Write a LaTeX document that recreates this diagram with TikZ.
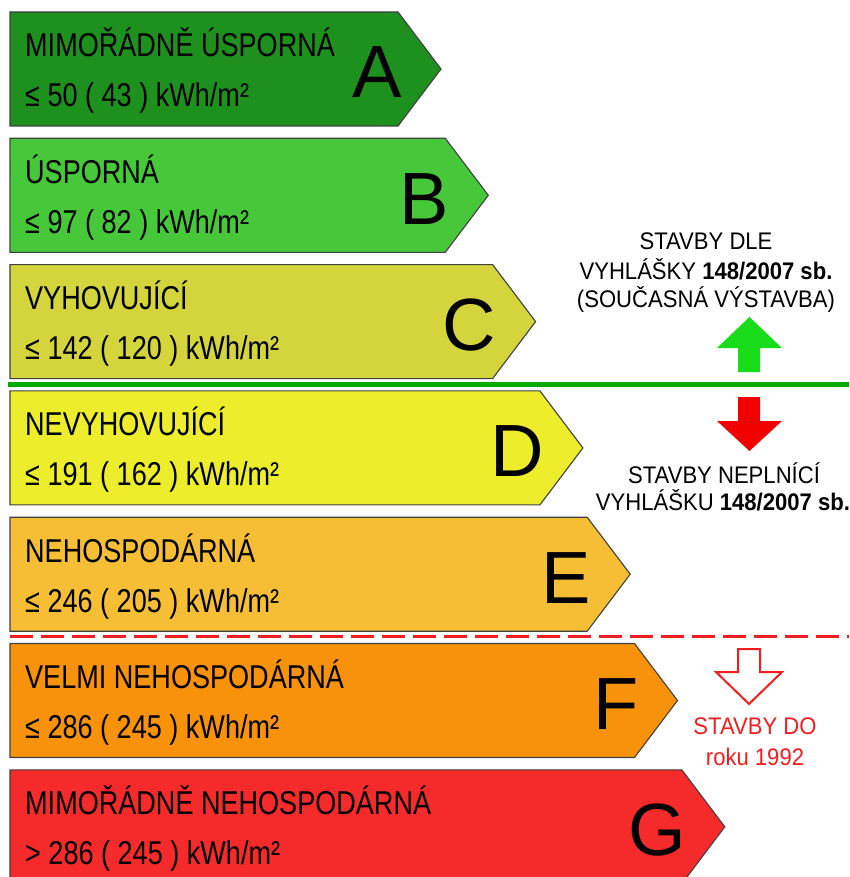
\documentclass[tikz,border=0pt]{standalone}
\usepackage{fontspec}
\setmainfont{Liberation Sans}
\newfontfamily\barfont{Liberation Sans}[FakeStretch=0.82]
\newfontfamily\sidefont{Liberation Sans}[FakeStretch=0.92]
\definecolor{cA}{HTML}{1E901E}
\definecolor{cB}{HTML}{46C83A}
\definecolor{cC}{HTML}{D4D43C}
\definecolor{cD}{HTML}{EDED2C}
\definecolor{cE}{HTML}{F6BE35}
\definecolor{cF}{HTML}{F8920A}
\definecolor{cG}{HTML}{F52A2A}
\definecolor{lineGreen}{HTML}{00AA00}
\definecolor{lineRed}{HTML}{F01E1E}
\begin{document}
\begin{tikzpicture}[x=1pt,y=-1pt,
  barshape/.style={draw=black!75,line width=1.1pt},
  bartext/.style={anchor=base west,inner sep=0pt,font=\barfont\fontsize{33}{33}\selectfont},
  bigletter/.style={anchor=base east,inner sep=0pt,font=\fontsize{74}{74}\selectfont},
  sidetext/.style={anchor=base,inner sep=0pt,font=\sidefont\fontsize{24}{24}\selectfont},
  fullarrow/.style={draw=none}]
\useasboundingbox (0,0) rectangle (849,877);
\clip (0,0) rectangle (849,877);
\foreach \i/\col/\ta/\tb/\L in {
  0/cA/{MIMOŘÁDNĚ ÚSPORNÁ}/{≤ 50 ( 43 ) kWh/m²}/A,
  1/cB/{ÚSPORNÁ}/{≤ 97 ( 82 ) kWh/m²}/B,
  2/cC/{VYHOVUJÍCÍ}/{≤ 142 ( 120 ) kWh/m²}/C,
  3/cD/{NEVYHOVUJÍCÍ}/{≤ 191 ( 162 ) kWh/m²}/D,
  4/cE/{NEHOSPODÁRNÁ}/{≤ 246 ( 205 ) kWh/m²}/E,
  5/cF/{VELMI NEHOSPODÁRNÁ}/{≤ 286 ( 245 ) kWh/m²}/F,
  6/cG/{MIMOŘÁDNĚ NEHOSPODÁRNÁ}/{> 286 ( 245 ) kWh/m²}/G}{
  \pgfmathsetmacro\t{12+126.3*\i}
  \pgfmathsetmacro\b{398+47.3*\i}
  \pgfmathsetmacro\bt{\t+114}
  \pgfmathsetmacro\m{\t+57}
  \pgfmathsetmacro\tp{\b+43}
  \draw[barshape,fill=\col] (10,\t) -- (\b,\t) -- (\tp,\m) -- (\b,\bt) -- (10,\bt) -- cycle;
  \node[bartext] (title\L) at (25,\t+45) {\ta};
  \node[bartext] (value\L) at (25,\t+95) {\tb};
  \node[bigletter] (letter\L) at (\b+4,\t+86) {\L};
}
% separating lines
\draw[lineGreen,line width=5pt] (8,384.5) -- (849,384.5);
\draw[lineRed,line width=3pt,dash pattern=on 23pt off 8pt] (10,636.5) -- (849,636.5);
% green up arrow
\fill[fill=green!85!black!90!white] (738,372) -- (738,348) -- (717,348) -- (749.5,317) -- (782,348) -- (760,348) -- (760,372) -- cycle;
% red down arrow
\fill[fill=red!95!black] (738,397) -- (738,421) -- (717,421) -- (749.5,451) -- (782,421) -- (760,421) -- (760,397) -- cycle;
% hollow red arrow
\draw[lineRed,line width=2pt,fill=white,line join=miter] (738,649) -- (738,672) -- (716,672) -- (749,704) -- (782,672) -- (760,672) -- (760,649) -- cycle;
% side texts
\node[sidetext] (up1) at (706,249) {STAVBY DLE};
\node[sidetext] (up2) at (706,279) {VYHLÁŠKY \textbf{148/2007 sb.}};
\node[sidetext] (up3) at (706,307) {(SOUČASNÁ VÝSTAVBA)};
\node[sidetext] (down1) at (724,483) {STAVBY NEPLNÍCÍ};
\node[sidetext] (down2) at (723,510) {VYHLÁŠKU \textbf{148/2007 sb.}};
\node[sidetext,text=lineRed] (old1) at (755,734) {STAVBY DO};
\node[sidetext,text=lineRed] (old2) at (755,765) {roku 1992};
\end{tikzpicture}
\end{document}
